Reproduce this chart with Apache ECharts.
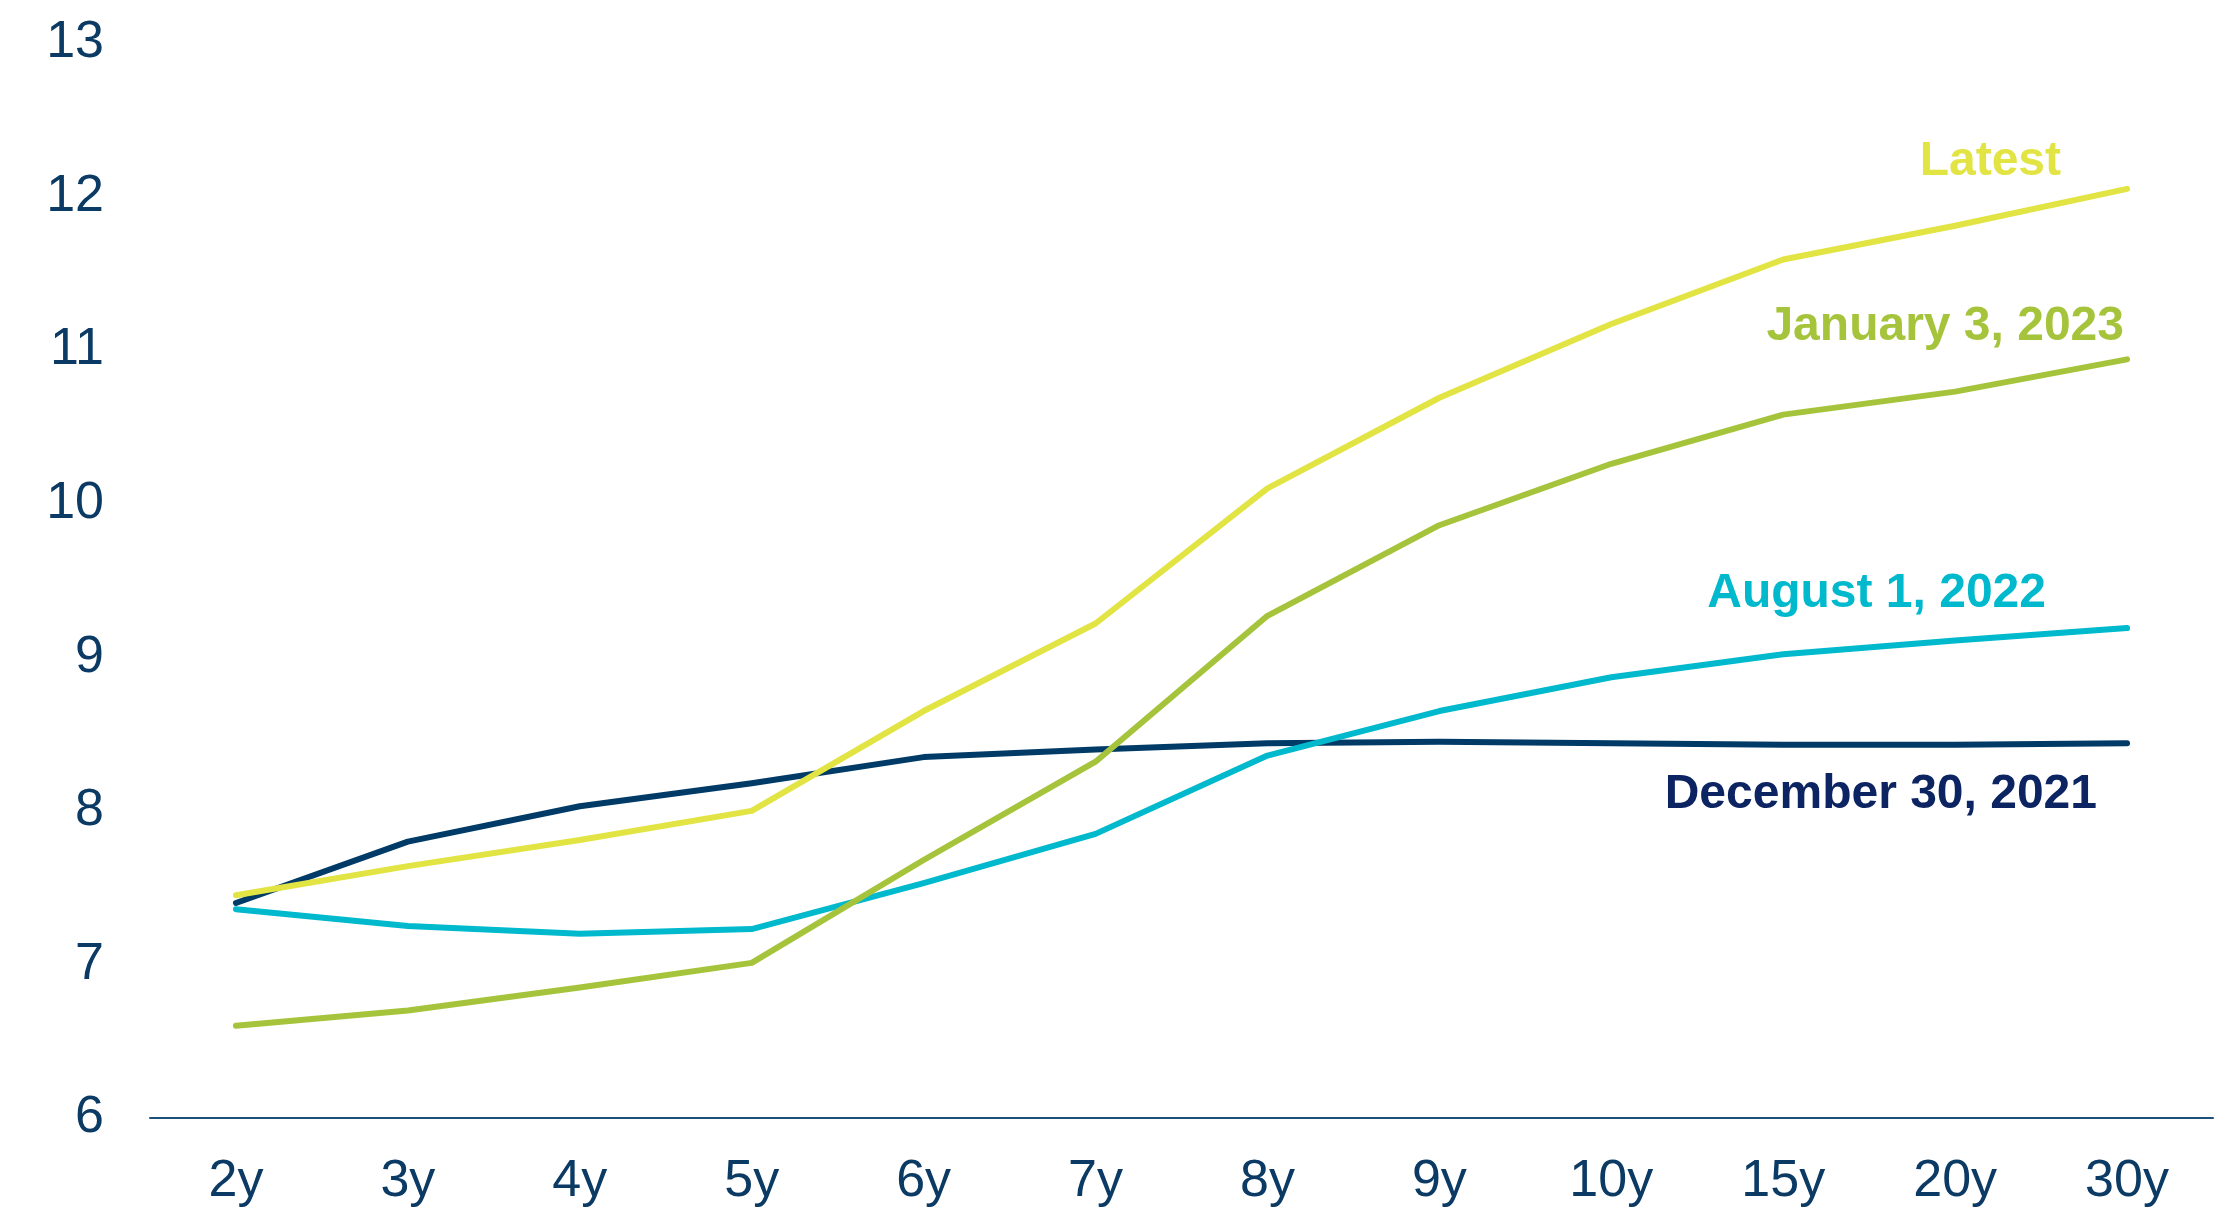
<!DOCTYPE html>
<html>
<head>
<meta charset="utf-8">
<script src="https://cdn.jsdelivr.net/npm/echarts@6/dist/echarts.min.js"></script>
<style>
  html, body { margin: 0; padding: 0; background: #fff; }
  #main { width: 2228px; height: 1209px; }
</style>
</head>
<body>
<div id="main"></div>
<script>
// tenors on the x axis
const tenors = ['2y', '3y', '4y', '5y', '6y', '7y', '8y', '9y', '10y', '15y', '20y', '30y']
// curves
const latest = [7.45, 7.64, 7.81, 8.0, 8.65, 9.22, 10.1, 10.69, 11.17, 11.59, 11.81, 12.05]
const jan2023 = [6.6, 6.7, 6.85, 7.01, 7.68, 8.32, 9.27, 9.86, 10.26, 10.58, 10.73, 10.94]
const aug2022 = [7.36, 7.25, 7.2, 7.23, 7.53, 7.85, 8.36, 8.65, 8.87, 9.02, 9.11, 9.19]
const dec2021 = [7.4, 7.8, 8.03, 8.18, 8.35, 8.4, 8.44, 8.45, 8.44, 8.43, 8.43, 8.44]
const yTicks = [6, 7, 8, 9, 10, 11, 12, 13]

const axisColor = '#0b3a64'
const fontFamily = '"Liberation Sans", Arial, sans-serif'

const chart = echarts.init(document.getElementById('main'))

function curve (name, data, color) {
  return {
    name: name,
    type: 'line',
    data: data,
    symbol: 'none',
    lineStyle: { color: color, width: 6, cap: 'round', join: 'round' },
    itemStyle: { color: color },
    z: 3
  }
}

// series labels sit near the right end of each curve
function tag (text, right, y, color) {
  return {
    type: 'text',
    right: right,
    top: y - 21,
    style: {
      text: text,
      fill: color,
      font: 'bold 48px ' + fontFamily
    }
  }
}

chart.setOption({
  animation: false,
  backgroundColor: '#fff',
  grid: { left: 150, right: 15, top: 43, bottom: 91 },
  xAxis: {
    type: 'category',
    data: tenors,
    boundaryGap: true,
    axisLine: { show: true, lineStyle: { color: '#1f4e79', width: 2 } },
    axisTick: { show: false },
    axisLabel: { color: axisColor, fontSize: 52, fontFamily: fontFamily, margin: 38 }
  },
  yAxis: {
    type: 'value',
    min: yTicks[0],
    max: yTicks[yTicks.length - 1],
    interval: 1,
    splitLine: { show: false },
    axisLine: { show: false },
    axisTick: { show: false },
    axisLabel: { color: axisColor, fontSize: 52, fontFamily: fontFamily, margin: 46 }
  },
  series: [
    curve('December 30, 2021', dec2021, '#003a66'),
    curve('August 1, 2022', aug2022, '#00b9cd'),
    curve('January 3, 2023', jan2023, '#a6c43b'),
    curve('Latest', latest, '#e1e443')
  ],
  graphic: [
    tag('Latest', 2228 - 2061, 159, '#e1e443'),
    tag('January 3, 2023', 2228 - 2124, 324, '#a6c43b'),
    tag('August 1, 2022', 2228 - 2046, 591, '#00b9cd'),
    tag('December 30, 2021', 2228 - 2097, 792, '#0c2461')
  ]
})
</script>
</body>
</html>
